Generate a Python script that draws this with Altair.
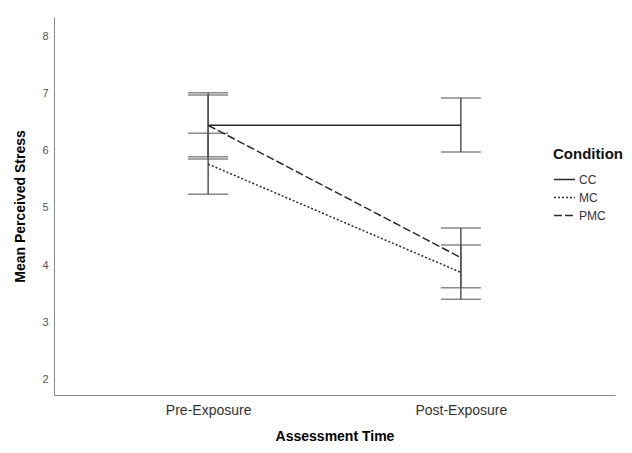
import altair as alt
import pandas as pd

times = ["Pre-Exposure", "Post-Exposure"]
conditions = ["CC", "MC", "PMC"]
means = {"CC": [6.45, 6.45], "MC": [5.77, 3.87], "PMC": [6.45, 4.13]}
lows = {"CC": [5.90, 5.98], "MC": [5.24, 3.40], "PMC": [5.86, 3.60]}
highs = {"CC": [7.02, 6.93], "MC": [6.31, 4.35], "PMC": [6.98, 4.65]}

rows = []
for c in conditions:
    for i, t in enumerate(times):
        rows.append({"time": t, "Condition": c, "mean": means[c][i],
                     "lo": lows[c][i], "hi": highs[c][i]})
df = pd.DataFrame(rows)

FONT = "Liberation Sans"
x = alt.X("time:N", sort=times,
          scale=alt.Scale(type="point", padding=0.61),
          axis=alt.Axis(title="Assessment Time", labelAngle=0, ticks=False,
                        domainColor="#888", labelColor="#333", labelFontSize=14,
                        labelPadding=8, titleFontSize=14, titleFontWeight="bold",
                        titlePadding=12, labelFont=FONT, titleFont=FONT))
yscale = alt.Scale(domain=[1.72, 8.35], nice=False, zero=False)
yaxis = alt.Axis(title="Mean Perceived Stress", values=[2, 3, 4, 5, 6, 7, 8],
                 format="d", ticks=False, grid=False, domainColor="#888",
                 labelColor="#555", labelFontSize=11, labelPadding=6,
                 titleFontSize=14, titleFontWeight="bold", titlePadding=14,
                 labelFont=FONT, titleFont=FONT)

base = alt.Chart(df)

lines = base.mark_line(color="#2a2a2a", strokeWidth=1.5).encode(
    x=x,
    y=alt.Y("mean:Q", scale=yscale, axis=yaxis),
    strokeDash=alt.StrokeDash(
        "Condition:N", sort=conditions,
        scale=alt.Scale(domain=conditions, range=[[1, 0], [2, 2], [8, 3]]),
        legend=alt.Legend(orient="none", legendX=499, legendY=130,
                          title="Condition", titleFontSize=15, titleFontWeight="bold",
                          titleFont=FONT, labelFont=FONT, labelFontSize=12,
                          labelColor="#333", titleColor="#111",
                          symbolType="stroke", symbolSize=441, symbolStrokeWidth=1.5,
                          symbolStrokeColor="#2a2a2a", rowPadding=-1, labelOffset=3,
                          titlePadding=6, padding=0)),
    detail="Condition:N",
)

err = base.mark_rule(color="#555", strokeWidth=1.5).encode(
    x=x, y=alt.Y("lo:Q", scale=yscale), y2="hi:Q")
cap_lo = base.mark_tick(color="#555", size=40, thickness=1.5, orient="horizontal").encode(
    x=x, y=alt.Y("lo:Q", scale=yscale))
cap_hi = base.mark_tick(color="#555", size=40, thickness=1.5, orient="horizontal").encode(
    x=x, y=alt.Y("hi:Q", scale=yscale))

chart = alt.layer(err, cap_lo, cap_hi, lines).properties(
    width=561, height=378,
    autosize=alt.AutoSizeParams(type="none"),
    padding={"left": 46, "top": 9, "right": 9, "bottom": 50},
).configure(background="white").configure_view(stroke=None)

chart.save("out.html", embed_options={"renderer": "svg", "actions": False})
